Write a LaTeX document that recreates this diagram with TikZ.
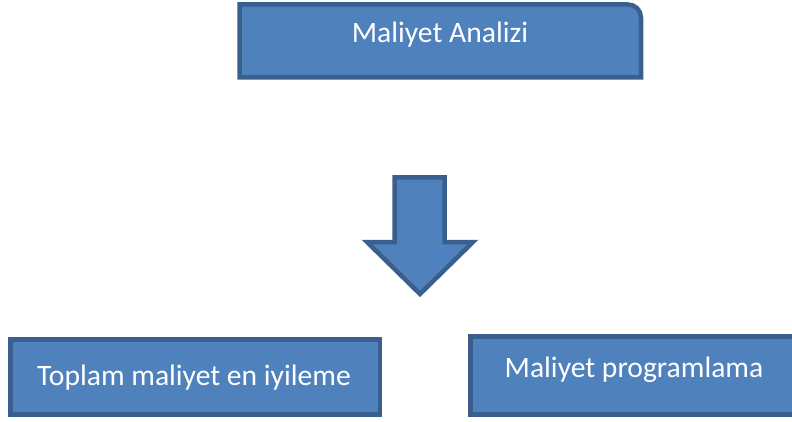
\documentclass[tikz,border=0pt]{standalone}
\usepackage{fontspec}
\setmainfont{Carlito}
\usetikzlibrary{positioning}
\definecolor{kutudolgu}{HTML}{4F81BD}
\definecolor{kutucizgi}{HTML}{3A5F8C}
\tikzset{
  kutu/.style={draw=kutucizgi, fill=kutudolgu, line width=4.5pt, line join=miter},
  yazi/.style={text=white, font=\fontsize{29.6}{34}\selectfont, inner sep=0pt, anchor=base}
}

\begin{document}
\begin{tikzpicture}[x=1pt, y=-1pt]
    \clip (0,0) rectangle (792,422);
    \useasboundingbox (0,0) rectangle (792,422);
    % ust kutu
    \draw[kutu] (239.5,77.5) -- (239.5,4.5) -- (628,4.5) arc[start angle=-90, end angle=0, radius=13] -- (641,77.5) -- cycle;
    \node[yazi] (analiz) at (440,43) {Maliyet Analizi};
    % ok
    \draw[kutu] (394.5,177.5) -- (444.5,177.5) -- (444.5,242) -- (473,242) -- (420,294) -- (367,242) -- (394.5,242) -- cycle;
    % alt kutular
    \draw[kutu] (10.5,339.5) rectangle (380,414.5);
    \node[yazi] (toplam) at (194,385) {Toplam maliyet en iyileme};
    \draw[kutu] (470.5,336.5) rectangle (805,414.5);
    \node[yazi] (program) at (634,377) {Maliyet programlama};
\end{tikzpicture}
\end{document}
